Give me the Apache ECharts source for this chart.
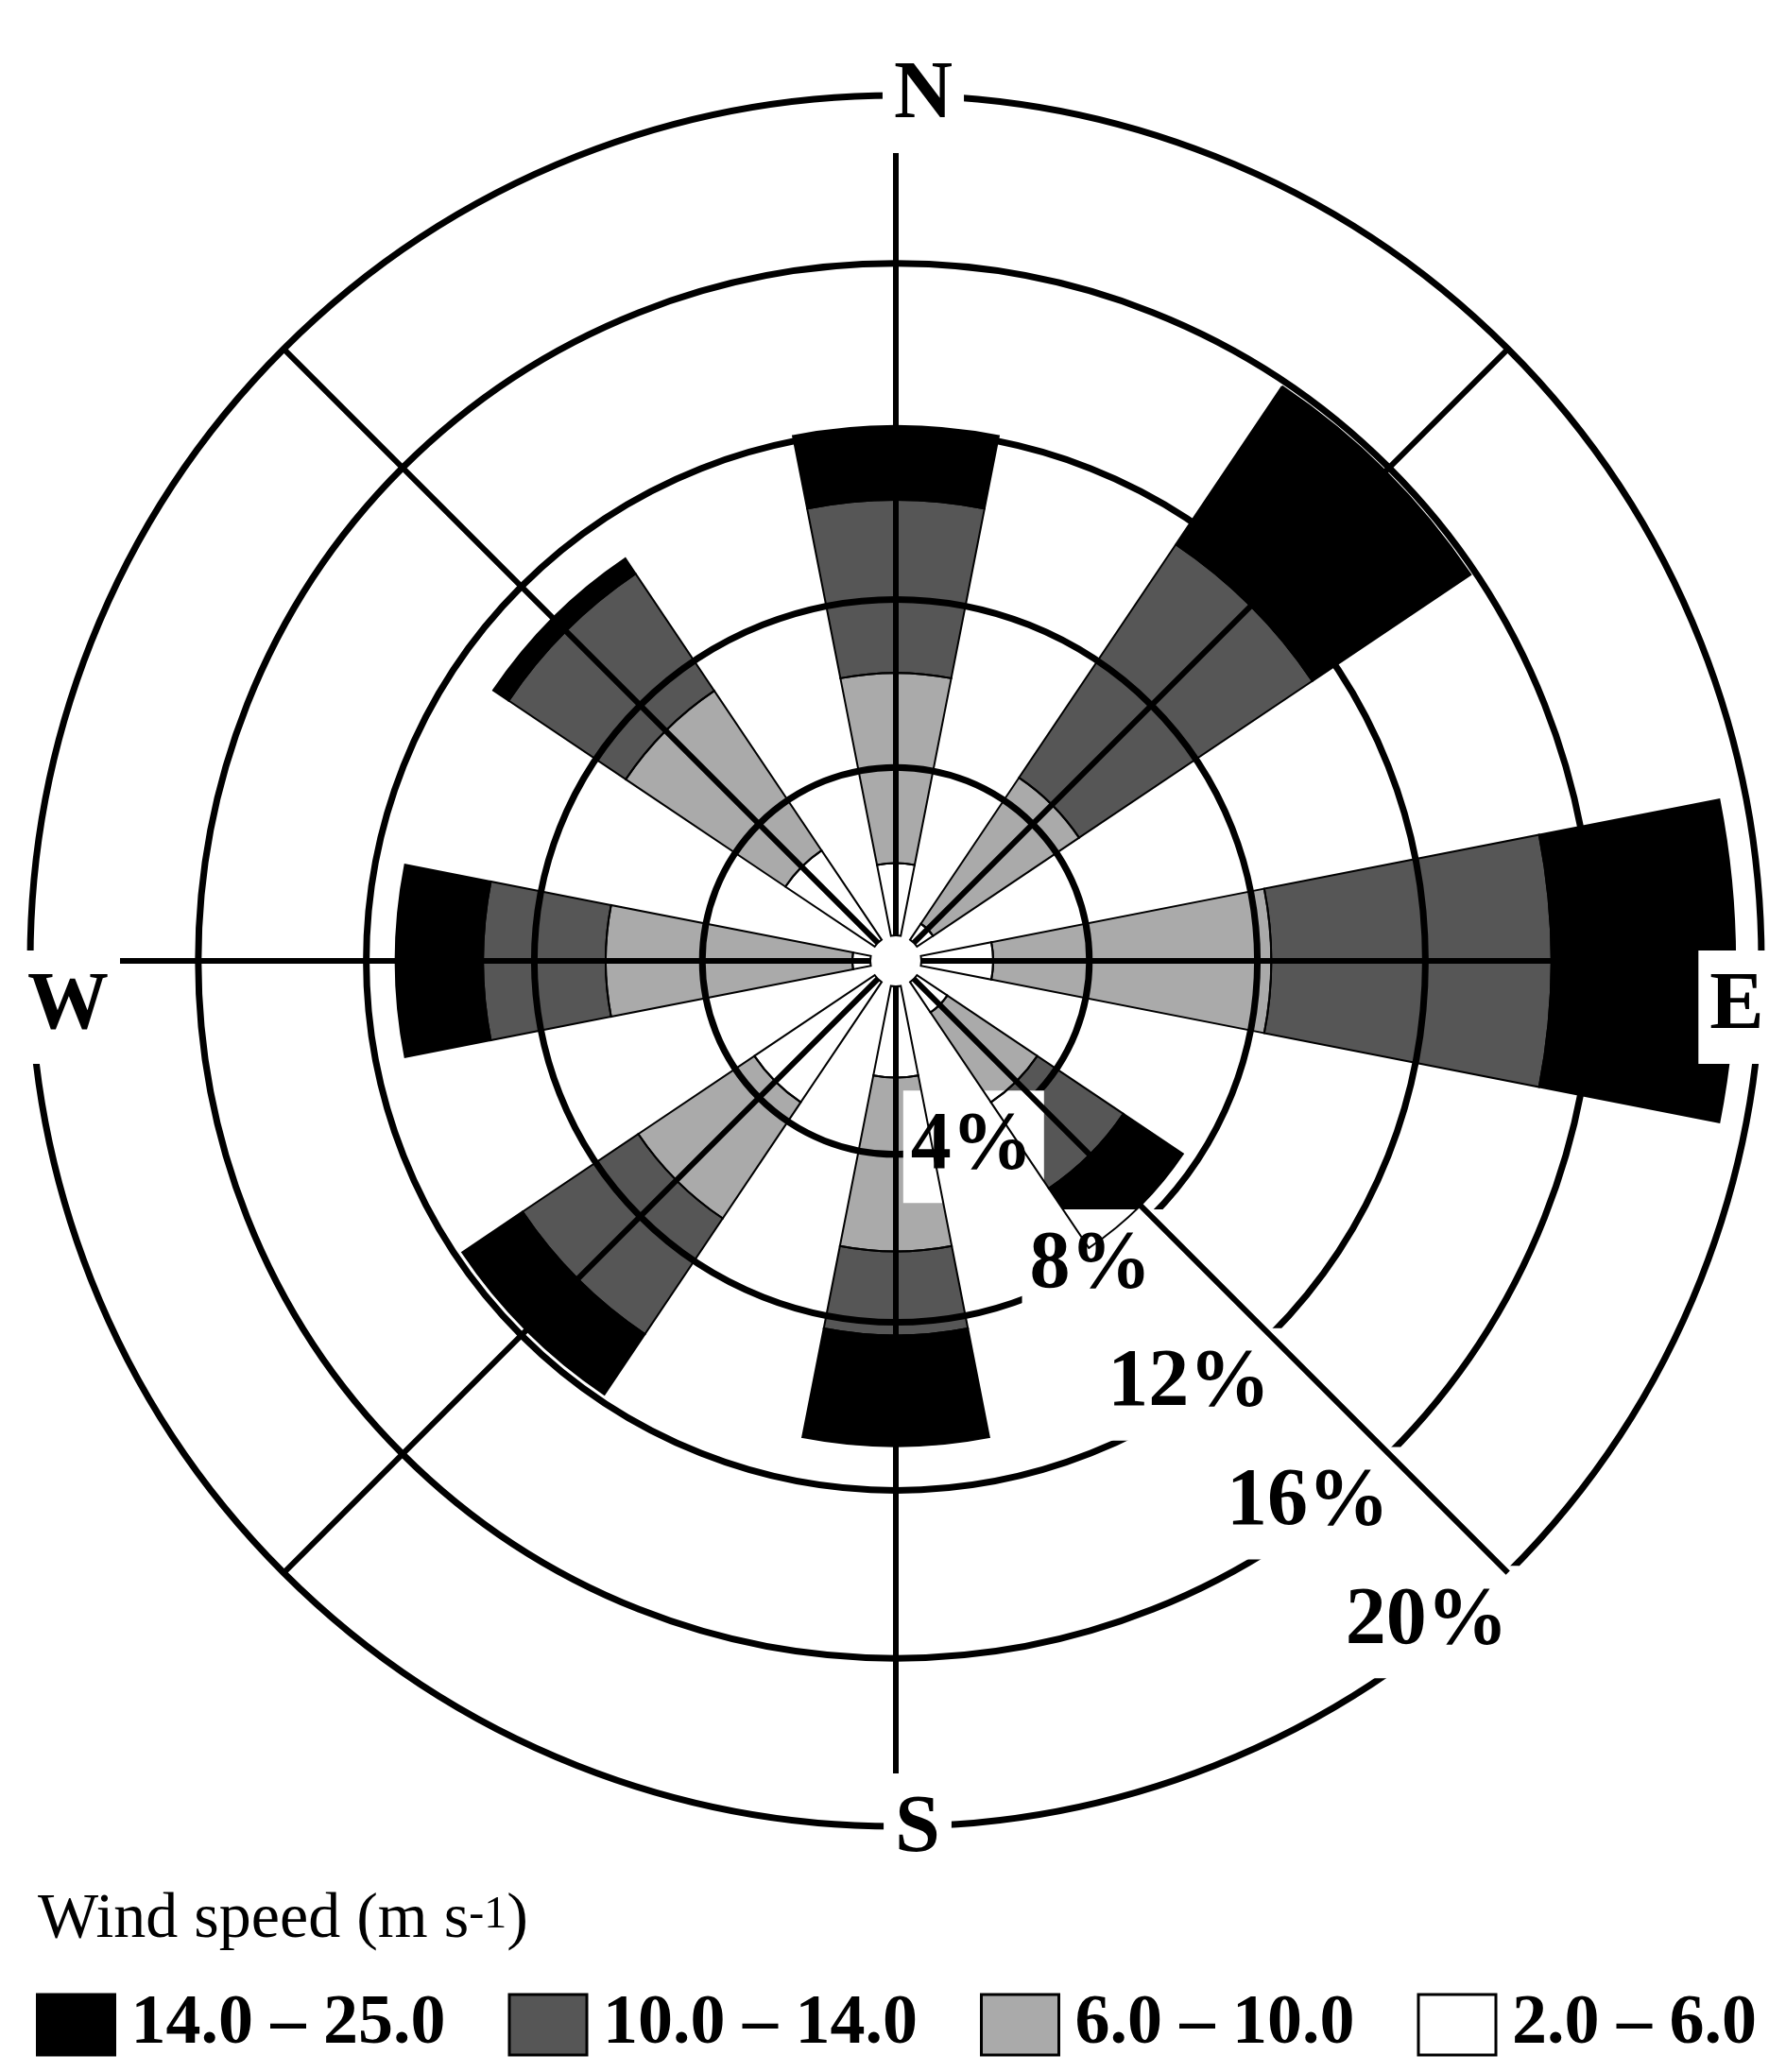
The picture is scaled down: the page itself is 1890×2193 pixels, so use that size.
<!DOCTYPE html>
<html><head><meta charset="utf-8">
<script src="https://cdn.jsdelivr.net/npm/echarts@6/dist/echarts.min.js"></script>
<style>html,body{margin:0;padding:0;background:#fff}#c{width:1890px;height:2193px}</style>
</head><body><div id="c"></div>
<script>
// ---- data ----
const directions = ['N', 'NE', 'E', 'SE', 'S', 'SW', 'W', 'NW'];
const speedClasses = ['2.0 – 6.0', '6.0 – 10.0', '10.0 – 14.0', '14.0 – 25.0'];
const freq_2_6   = [1.72, 0.46, 1.71, 0.87, 2.17, 3.45, 0.43, 2.56];
const freq_6_10  = [4.53, 4.19, 6.62, 2.58, 4.14, 3.33, 5.87, 4.58];
const freq_10_14 = [4.12, 6.69, 6.67, 2.47, 2.00, 3.32, 2.92, 3.36];
const freq_14_25 = [1.76, 4.54, 4.37, 1.71, 2.64, 1.73, 2.08, 0.44];
const ringTicks = [4, 8, 12, 16, 20];
const ringLabels = ['4%', '8%', '12%', '16%', '20%'];
const ringLabelAngle = 135;
const compassLabels = ['N', 'E', 'S', 'W'];
const compassAngles = [0, 90, 180, 270];
const legendTitle = 'Wind speed (m s';
const legendTitleSup = '-1';

// ---- style ----
const colors = ['#ffffff', '#aaaaaa', '#565656', '#000000'];
const SERIF = '"Liberation Serif", "Times New Roman", serif';
const CENTER = [948, 1017];
const RADIUS = [27, 916];
const compassOffsets = [[29, 1], [-26, 49], [23, 4], [40, 49]];

const hiddenAxis = {axisLine: {show: false}, axisTick: {show: false}, axisLabel: {show: false}, splitLine: {show: false}, splitArea: {show: false}};

const allSeries = [freq_2_6, freq_6_10, freq_10_14, freq_14_25];

const fillSeries = allSeries.map((d, i) => ({
  type: 'bar', name: speedClasses[i], coordinateSystem: 'polar', polarIndex: 0,
  stack: 'fill', data: d, barWidth: '49.3%', z: 2, silent: true,
  itemStyle: {color: colors[i], borderWidth: 0, opacity: 1},
  emphasis: {disabled: true}
}));
const outlineSeries = allSeries.map((d, i) => ({
  type: 'bar', name: 'outline' + i, coordinateSystem: 'polar', polarIndex: 2,
  stack: 'outline', data: d, barWidth: '49.3%', z: 5, silent: true,
  itemStyle: {color: 'rgba(0,0,0,0)', borderColor: '#000', borderWidth: 2, opacity: 1},
  emphasis: {disabled: true}
}));

const pctLabelSeries = {
  type: 'scatter', coordinateSystem: 'polar', polarIndex: 1, z: 4, silent: true,
  symbolSize: 1, itemStyle: {color: 'rgba(0,0,0,0)', opacity: 1},
  emphasis: {disabled: true},
  data: ringTicks.map((t, i) => ({value: [t, ringLabelAngle], name: ringLabels[i]})),
  label: {
    show: true, formatter: '{b}', position: 'inside', align: 'right', verticalAlign: 'middle',
    offset: [12, 52], fontFamily: SERIF, fontWeight: 'bold', fontSize: 86, lineHeight: 86,
    color: '#000', opacity: 1, backgroundColor: '#fff', padding: [17, 12, 16, 8]
  }
};
const compassSeries = {
  type: 'scatter', coordinateSystem: 'polar', polarIndex: 1, z: 7, silent: true,
  symbolSize: 1, itemStyle: {color: 'rgba(0,0,0,0)', opacity: 1},
  emphasis: {disabled: true},
  data: compassAngles.map((a, i) => ({value: [20, a], name: compassLabels[i], label: {offset: compassOffsets[i]}})),
  label: {
    show: true, formatter: '{b}', position: 'inside', align: 'center', verticalAlign: 'middle',
    fontFamily: SERIF, fontWeight: 'bold', fontSize: 86, lineHeight: 86,
    color: '#000', opacity: 1, backgroundColor: '#fff', padding: [17, 12, 17, 12]
  }
};

const option = {
  backgroundColor: '#fff',
  animation: false,
  title: {
    left: 40, top: 1998, padding: 0,
    text: '{a|' + legendTitle + '}{s|' + legendTitleSup + '}{a|)}',
    textStyle: {
      rich: {
        a: {fontFamily: SERIF, fontSize: 68, lineHeight: 68, color: '#000', fontWeight: 'normal'},
        s: {fontFamily: SERIF, fontSize: 48, lineHeight: 48, color: '#000', fontWeight: 'normal', verticalAlign: 'top', padding: [5, 0, 0, 0]}
      }
    }
  },
  legend: {
    data: [speedClasses[3], speedClasses[2], speedClasses[1], speedClasses[0]],
    left: 38, top: 2106, right: 0, width: 1852, orient: 'horizontal', icon: 'rect',
    itemWidth: 82, itemHeight: 64, itemGap: 66, selectedMode: false, padding: 0,
    itemStyle: {borderColor: '#000', borderWidth: 3},
    textStyle: {fontFamily: SERIF, fontWeight: 'bold', fontSize: 74, color: '#000', padding: [0, 0, 0, 12]}
  },
  polar: [0, 1, 2].map(() => ({center: CENTER, radius: RADIUS})),
  angleAxis: [
    Object.assign({polarIndex: 0, type: 'category', data: directions, startAngle: 112.5, clockwise: true, boundaryGap: true, z: 3}, hiddenAxis),
    Object.assign({polarIndex: 1, type: 'value', min: 0, max: 360, interval: 45, startAngle: 90, clockwise: true, z: 5}, hiddenAxis,
      {splitLine: {show: true, lineStyle: {color: '#000', width: 6}}}),
    Object.assign({polarIndex: 2, type: 'category', data: directions, startAngle: 112.5, clockwise: true, boundaryGap: true, z: 5}, hiddenAxis)
  ],
  radiusAxis: [
    Object.assign({polarIndex: 0, type: 'value', min: 0, max: 20, interval: 4, z: 3}, hiddenAxis,
      {splitLine: {show: true, lineStyle: {color: ['rgba(0,0,0,0)', '#000', '#000', '#000', '#000', '#000'], width: 7}}}),
    Object.assign({polarIndex: 1, type: 'value', min: 0, max: 20, interval: 4}, hiddenAxis),
    Object.assign({polarIndex: 2, type: 'value', min: 0, max: 20, interval: 4}, hiddenAxis)
  ],
  series: [...fillSeries, ...outlineSeries, pctLabelSeries, compassSeries]
};

const chart = echarts.init(document.getElementById('c'), null, {renderer: 'canvas'});
chart.setOption(option);
</script>
</body></html>
